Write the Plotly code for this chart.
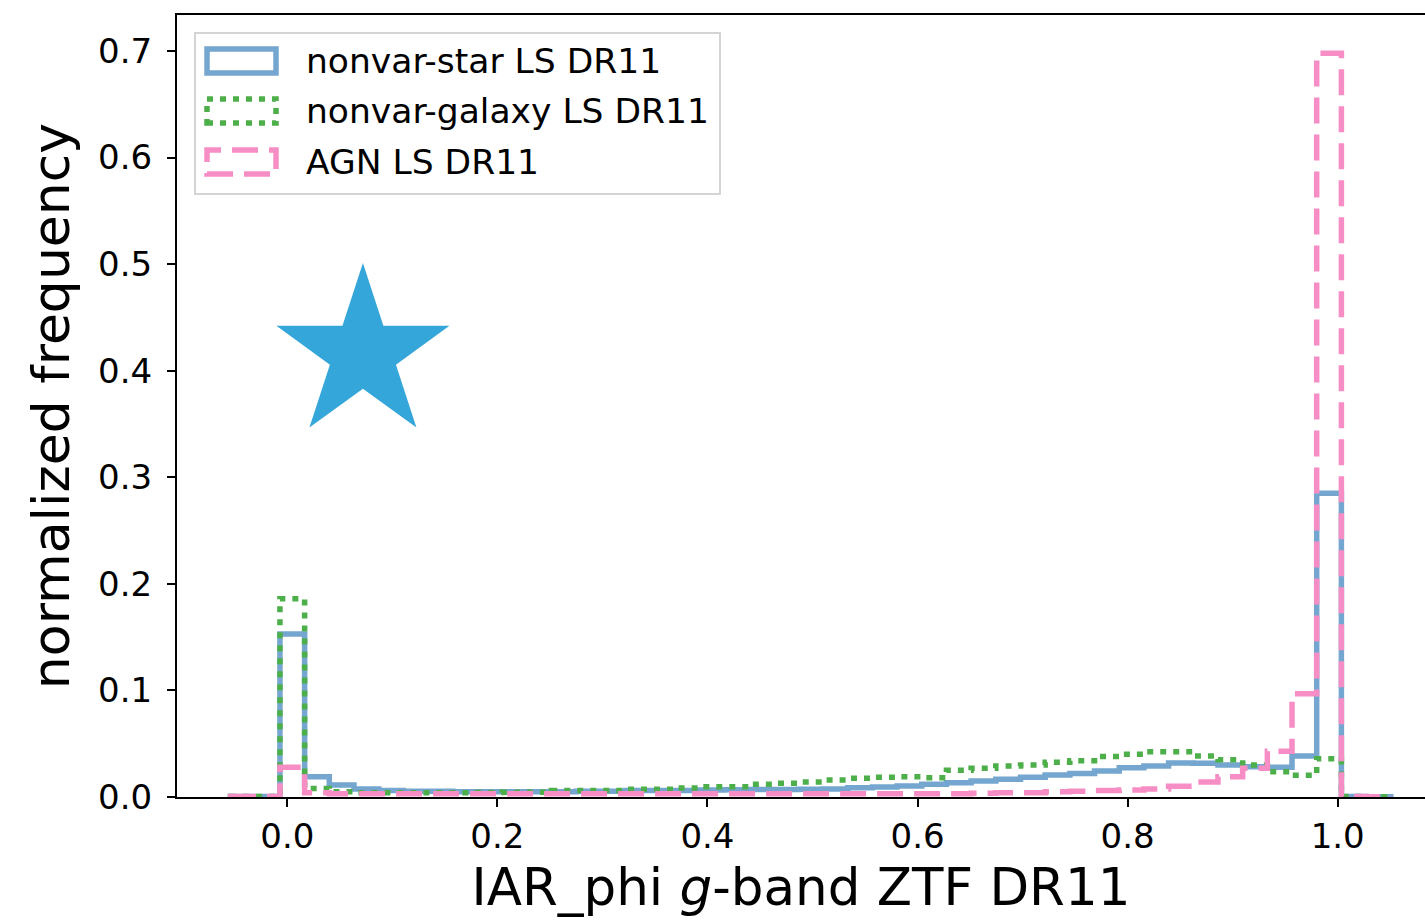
import numpy as np
import plotly.graph_objects as go

# ---- data ----
bin_start = -0.054
bin_width = 0.0235
n_bins = 47

star_vals = [0.0005, 0.0005, 0.153, 0.019, 0.0113, 0.0075, 0.006, 0.0055, 0.0055, 0.005,
             0.005, 0.005, 0.005, 0.005, 0.0055, 0.0055, 0.006, 0.006, 0.0062, 0.0065,
             0.0068, 0.007, 0.007, 0.0072, 0.0075, 0.0087, 0.0095, 0.0103, 0.012, 0.0134,
             0.015, 0.0166, 0.0185, 0.0206, 0.022, 0.0245, 0.0275, 0.029, 0.032, 0.0316,
             0.030, 0.0285, 0.028, 0.0385, 0.285, 0.0005, 0.0003]

galaxy_vals = [0.0005, 0.0005, 0.186, 0.008, 0.005, 0.004, 0.004, 0.004, 0.004, 0.004,
               0.0042, 0.0045, 0.0045, 0.006, 0.006, 0.006, 0.0072, 0.0072, 0.0085, 0.0097,
               0.0097, 0.012, 0.0128, 0.014, 0.016, 0.0175, 0.0185, 0.019, 0.018, 0.025,
               0.027, 0.029, 0.030, 0.0325, 0.034, 0.038, 0.040, 0.0425, 0.0425, 0.0385,
               0.035, 0.030, 0.0237, 0.0205, 0.036, 0.0005, 0.0003]

agn_vals = [0.0005, 0.0005, 0.028, 0.004, 0.003, 0.003, 0.003, 0.003, 0.003, 0.003,
            0.003, 0.003, 0.003, 0.003, 0.003, 0.003, 0.003, 0.003, 0.003, 0.003,
            0.003, 0.003, 0.003, 0.003, 0.003, 0.003, 0.003, 0.003, 0.003, 0.003,
            0.0035, 0.004, 0.004, 0.005, 0.0055, 0.006, 0.0065, 0.0075, 0.010, 0.014,
            0.019, 0.027, 0.043, 0.097, 0.698, 0.0005, 0.0003]

series_names = ["nonvar-star LS DR11", "nonvar-galaxy LS DR11", "AGN LS DR11"]
star_marker_x = [0.072]
star_marker_y = [0.4157]

x_tick_vals = [0.0, 0.2, 0.4, 0.6, 0.8, 1.0]
x_tick_text = ["0.0", "0.2", "0.4", "0.6", "0.8", "1.0"]
y_tick_vals = [0.0, 0.1, 0.2, 0.3, 0.4, 0.5, 0.6, 0.7]
y_tick_text = ["0.0", "0.1", "0.2", "0.3", "0.4", "0.5", "0.6", "0.7"]

# ---- styles ----
colors = ["#74a6cf", "#4daf4a", "#f68ec5"]
dashes = ["solid", "6px,7px", "26px,11px"]
LW = 5.5
FONT = "DejaVu Sans"

edges = bin_start + bin_width * np.arange(n_bins + 1)


def step_xy(vals):
    xs = [edges[0]] + list(edges)
    ys = [0.0] + list(vals) + [0.0]
    return xs, ys


fig = go.Figure()
for vals, name, col, dash in zip([star_vals, galaxy_vals, agn_vals], series_names, colors, dashes):
    xs, ys = step_xy(vals)
    fig.add_trace(go.Scatter(x=xs, y=ys, mode="lines", name=name,
                             line=dict(color=col, width=LW, dash=dash, shape="hv"),
                             showlegend=False, hoverinfo="skip"))

fig.add_trace(go.Scatter(x=star_marker_x, y=star_marker_y, mode="markers",
                         marker=dict(symbol="star", size=130, color="#35a6d9",
                                     line=dict(width=0)),
                         showlegend=False, hoverinfo="skip"))

# ---- manual legend (matplotlib-like patches) ----
W, H = 1248.0, 782.0
L, B = 177.0, 797.0


def px(xp):
    return (xp - L) / W


def py(yp):
    return (B - yp) / H


shapes = [dict(type="rect", xref="paper", yref="paper",
               x0=px(195), x1=px(720), y0=py(194), y1=py(33),
               line=dict(color="#d4d4d4", width=2), fillcolor="rgba(255,255,255,0.85)",
               layer="above")]
annotations = []
row_y = [61, 111, 162]
for name, col, dash, ry in zip(series_names, colors, dashes, row_y):
    shapes.append(dict(type="rect", xref="paper", yref="paper",
                       x0=px(207), x1=px(276), y0=py(ry + 12), y1=py(ry - 12),
                       line=dict(color=col, width=LW, dash=dash), fillcolor="rgba(0,0,0,0)",
                       layer="above"))
    annotations.append(dict(xref="paper", yref="paper", x=px(304), y=py(ry),
                            text=name, showarrow=False, xanchor="left", yanchor="middle",
                            font=dict(family=FONT, size=34.5, color="black")))

fig.update_layout(
    width=1425, height=922,
    margin=dict(l=177, r=0, t=15, b=125),
    paper_bgcolor="white", plot_bgcolor="white",
    font=dict(family=FONT, color="black"),
    shapes=shapes, annotations=annotations,
    showlegend=False,
)
fig.update_xaxes(range=[-0.105, 1.0831], tickvals=x_tick_vals, ticktext=x_tick_text,
                 ticks="outside", ticklen=8, tickwidth=2, tickcolor="black",
                 tickfont=dict(family=FONT, size=34), showgrid=False, zeroline=False,
                 showline=True, linecolor="black", linewidth=2, mirror=True,
                 title=dict(text="IAR_phi <i>g</i>-band ZTF DR11",
                            font=dict(family=FONT, size=51.5), standoff=14),
                 automargin=False)
fig.update_yaxes(range=[0, 0.7338], tickvals=y_tick_vals, ticktext=y_tick_text,
                 ticks="outside", ticklen=8, tickwidth=2, tickcolor="black",
                 tickfont=dict(family=FONT, size=34), showgrid=False, zeroline=False,
                 showline=True, linecolor="black", linewidth=2, ticklabelstandoff=8,
                 title=dict(text="normalized frequency",
                            font=dict(family=FONT, size=52), standoff=12),
                 automargin=False)

fig.write_html("out.html", config={"displayModeBar": False},
               post_script="document.body.style.margin='0';document.body.style.overflow='hidden';")
